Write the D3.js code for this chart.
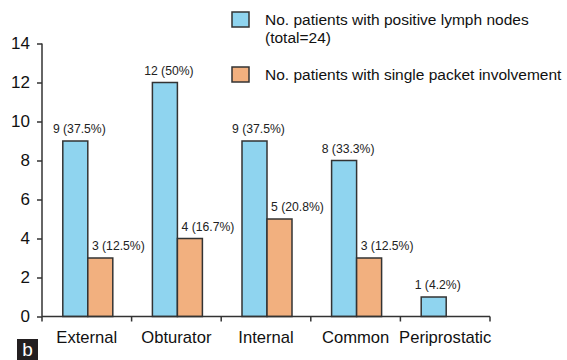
<!DOCTYPE html>
<html><head><meta charset="utf-8">
<script src="https://cdn.jsdelivr.net/npm/d3@7"></script>
<style>body{margin:0;background:#fff;} text{font-family:"Liberation Sans",Arial,sans-serif;}</style>
</head><body><svg id="c" width="567" height="360"></svg>
<script>
const categories = ["External","Obturator","Internal","Common","Periprostatic"];
const seriesNames = ["No. patients with positive lymph nodes (total=24)","No. patients with single packet involvement"];
const positiveNodes = [9,12,9,8,1];
const singlePacket = [3,4,5,3,null];
const positiveLabels = ["9 (37.5%)","12 (50%)","9 (37.5%)","8 (33.3%)","1 (4.2%)"];
const singleLabels = ["3 (12.5%)","4 (16.7%)","5 (20.8%)","3 (12.5%)",null];
const yTicks = [0,2,4,6,8,10,12,14];
const colors = ["#8fd4ef","#f2b07f"];

const svg = d3.select("#c");
const x = d3.scaleBand().domain(categories).range([42,490]);
const y = d3.scaleLinear().domain([0,14]).range([316.5,43.5]);
const x1 = d3.scaleBand().domain([0,1]).range([-25,25]);
const stroke = "#333";

const series = [positiveNodes, singlePacket];
const labels = [positiveLabels, singleLabels];
const labelDx = [4,18];

series.forEach((vals,s)=>{
  const g = svg.append("g");
  categories.forEach((c,i)=>{
    const v = vals[i];
    if(v==null) return;
    const cx = x(c)+x.bandwidth()/2+1;
    g.append("rect")
      .attr("x", cx+x1(s)).attr("width", x1.bandwidth())
      .attr("y", y(v)).attr("height", y(0)-y(v))
      .attr("fill", colors[s]).attr("stroke", stroke).attr("stroke-width",1.5);
    g.append("text")
      .attr("x", cx+x1(s)+x1.bandwidth()/2+labelDx[s])
      .attr("y", y(v)-8)
      .attr("text-anchor","middle").attr("font-size",12.2).attr("fill","#222")
      .text(labels[s][i]);
  });
});

// Y axis
const yAxis = svg.append("g").attr("transform","translate(42,0)")
  .call(d3.axisLeft(y).tickValues(yTicks).tickSize(5).tickPadding(7).tickFormat(d3.format("d")));
yAxis.select(".domain").attr("stroke",stroke).attr("stroke-width",1.5).attr("d","M0,43.5V316.5");
yAxis.selectAll(".tick line").attr("stroke",stroke).attr("stroke-width",1.5);
yAxis.selectAll(".tick text").attr("font-size",17).attr("fill","#111").attr("font-family","Liberation Sans, Arial, sans-serif");

// X axis
const xAxis = svg.append("g").attr("transform",`translate(0,${y(0)})`)
  .call(d3.axisBottom(x).tickSize(0).tickPadding(15));
xAxis.select(".domain").attr("stroke",stroke).attr("stroke-width",1.5).attr("d","M42,0H490");
xAxis.selectAll(".tick text").attr("font-size",16.6).attr("fill","#111").attr("font-family","Liberation Sans, Arial, sans-serif");
const bounds = categories.map(c=>x(c)).concat([x.range()[1]]);
xAxis.selectAll(".bt").data(bounds).enter().append("line")
  .attr("x1",d=>d).attr("x2",d=>d).attr("y1",0).attr("y2",5)
  .attr("stroke",stroke).attr("stroke-width",1.5);

// Legend
const leg = svg.append("g");
const legY = [12,67];
const legLines = [["No. patients with positive lymph nodes","(total=24)"],["No. patients with single packet involvement"]];
legLines.forEach((lines,s)=>{
  leg.append("rect").attr("x",232).attr("y",legY[s]).attr("width",17).attr("height",15)
    .attr("fill",colors[s]).attr("stroke",stroke).attr("stroke-width",1.5);
  lines.forEach((t,j)=>{
    leg.append("text").attr("x",265).attr("y",legY[s]+13+j*17.5)
      .attr("font-size",15.5).attr("fill","#111").text(t);
  });
});

// panel label
svg.append("rect").attr("x",17).attr("y",339).attr("width",21).attr("height",21).attr("fill","#231f20");
svg.append("text").attr("x",27.5).attr("y",356).attr("text-anchor","middle")
  .attr("font-size",19).attr("fill","#fff").text("b");
</script></body></html>
